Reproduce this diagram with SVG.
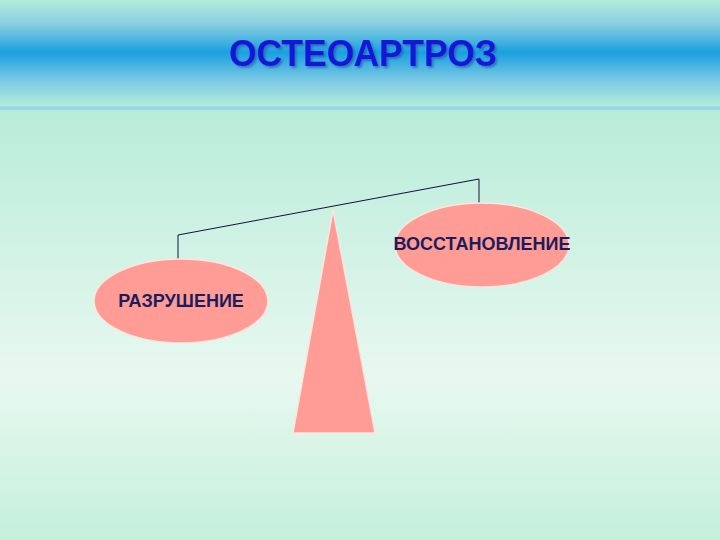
<svg xmlns="http://www.w3.org/2000/svg" width="720" height="540" viewBox="0 0 720 540">
<defs>
<linearGradient id="bg" x1="0" y1="0" x2="0" y2="1">
<stop offset="0" stop-color="#b2ead8"/>
<stop offset="0.2" stop-color="#b8ecd8"/>
<stop offset="0.7" stop-color="#e8f8f0"/>
<stop offset="1" stop-color="#c4f0dc"/>
</linearGradient>
<linearGradient id="band" x1="0" y1="0" x2="0" y2="1">
<stop offset="0" stop-color="#b2ecd8"/>
<stop offset="0.22" stop-color="#8cd0e0"/>
<stop offset="0.5" stop-color="#1aa0e0"/>
<stop offset="0.78" stop-color="#80cce4"/>
<stop offset="1" stop-color="#b0ead8"/>
</linearGradient>
<filter id="sh" x="-10%" y="-20%" width="130%" height="150%">
<feDropShadow dx="2" dy="2" stdDeviation="1" flood-color="#2050a0" flood-opacity="0.6"/>
</filter>
<style>
.node{fill:#ff9c96;stroke:#fbe6e0;stroke-width:1.5}
.lbl{font-family:"Liberation Sans",Arial,sans-serif;font-weight:bold;font-size:18px;fill:#1c1c5c;text-anchor:middle}
.con{fill:none;stroke:#101040;stroke-width:1}
</style>
</defs>
<rect x="0" y="0" width="720" height="540" fill="url(#bg)"/>
<rect x="0" y="0" width="720" height="105" fill="url(#band)"/>
<rect x="0" y="106" width="720" height="4" fill="#9ad8e8"/>
<text x="363" y="66" font-family="Liberation Sans, Arial, sans-serif" font-weight="bold" font-size="36" fill="#1414d8" text-anchor="middle" textLength="268" lengthAdjust="spacingAndGlyphs" filter="url(#sh)">ОСТЕОАРТРОЗ</text>
<g id="connectors">
<polyline class="con" points="178,260 178,235 479,179 479,203"/>
</g>
<g id="fulcrum">
<polygon class="node" points="333,210 375,433 293,433"/>
</g>
<g id="razrushenie">
<ellipse class="node" cx="181" cy="301" rx="87" ry="42"/>
<text class="lbl" x="181" y="307">РАЗРУШЕНИЕ</text>
</g>
<g id="vosstanovlenie">
<ellipse class="node" cx="482" cy="245" rx="87" ry="42"/>
<text class="lbl" x="482" y="250">ВОССТАНОВЛЕНИЕ</text>
</g>
</svg>
